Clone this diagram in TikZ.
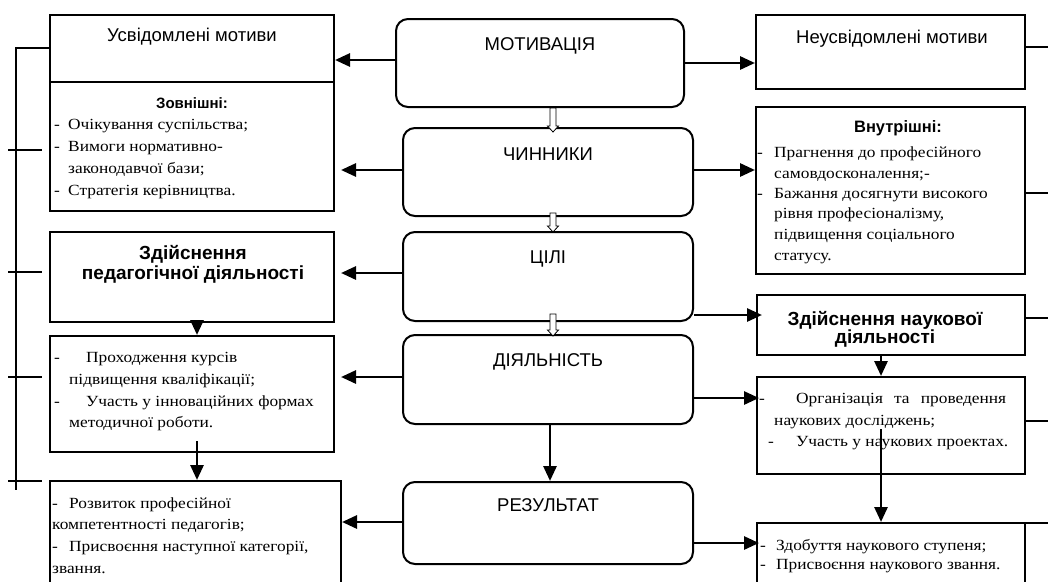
\documentclass[tikz,border=0pt]{standalone}
\usepackage{fontspec}
\setmainfont{Liberation Serif}[FakeStretch=1.12]
\newfontfamily\arialf{Liberation Sans}
\usetikzlibrary{arrows.meta,calc}
\newcommand\srsz{\fontsize{15.5}{20}\selectfont}
\newcommand\labsz{\arialf\fontsize{18.5}{20}\selectfont}
\newcommand\bldsz{\arialf\bfseries\fontsize{19}{20}\selectfont}
\newcommand\bldsm{\arialf\bfseries\fontsize{15}{18}\selectfont}
\newcommand\bldmd{\arialf\bfseries\fontsize{16.5}{18}\selectfont}
\newcommand\tln[4]{\node[tl] (#1) at (#2,#3) {#4};}
\newcommand\dsh[1]{\makebox[#1pt][l]{-}}
\begin{document}
\begin{tikzpicture}[x=1pt,y=-1pt,
  box/.style={draw, line width=2pt, inner sep=0pt, rectangle},
  cbox/.style={box, rounded corners=12pt},
  arr/.style={line width=2.8pt, -{Triangle[length=15pt,width=13pt]}},
  fb/.style={line width=2.3pt},
  tl/.style={anchor=base west, inner sep=0pt, font=\srsz},
  lab/.style={anchor=base, inner sep=0pt, font=\labsz},
  bld/.style={anchor=base, inner sep=0pt, font=\bldsz},
  bsm/.style={anchor=base, inner sep=0pt, font=\bldsm},
  bmd/.style={anchor=base, inner sep=0pt, font=\bldmd},
  hollow/.style={fill=white, draw=black, line width=0.8pt}
]
\useasboundingbox (0,0) rectangle (1048,581);
\clip (0,0) rectangle (1048,581);

% left column
\node[box, minimum width=284pt, minimum height=67pt] (L1) at (192,48.5) {};
\node[box, minimum width=284pt, minimum height=129pt] (L2) at (192,146.5) {};
\node[box, minimum width=284pt, minimum height=90pt] (L3) at (192,277) {};
\node[box, minimum width=284pt, minimum height=116pt] (L4) at (192,394) {};
\node[box, minimum width=291pt, minimum height=119pt] (L5) at (195.5,540.5) {};

% centre column
\node[cbox, minimum width=288pt, minimum height=88pt] (mot) at (540,63) {};
\node[cbox, minimum width=290pt, minimum height=88pt] (chy) at (548,172) {};
\node[cbox, minimum width=290pt, minimum height=89pt] (cil) at (548,276.5) {};
\node[cbox, minimum width=290pt, minimum height=89pt] (diy) at (548,379.5) {};
\node[cbox, minimum width=290pt, minimum height=82pt] (res) at (548,523) {};

% right column
\node[box, minimum width=269pt, minimum height=74pt] (R1) at (890.5,52) {};
\node[box, minimum width=269pt, minimum height=167pt] (R2) at (890.5,190.5) {};
\node[box, minimum width=268pt, minimum height=60pt] (R3) at (891,325) {};
\node[box, minimum width=268pt, minimum height=97pt] (R4) at (891,425.5) {};
\node[box, minimum width=268pt, minimum height=77pt] (R5) at (891,561.5) {};

% texts
\node[lab] (tL1) at (192,41) {Усвідомлені мотиви};
\node[lab] (tR1) at (892,43) {Неусвідомлені мотиви};
\node[lab] (tmot) at (540,50) {МОТИВАЦІЯ};
\node[lab] (tchy) at (548,160) {ЧИННИКИ};
\node[lab] (tcil) at (548,263) {ЦІЛІ};
\node[lab] (tdiy) at (548,366) {ДІЯЛЬНІСТЬ};
\node[lab] (tres) at (548,511) {РЕЗУЛЬТАТ};

\node[bsm] (tL2h) at (192,108) {Зовнішні:};
\tln{l2a}{54}{129}{\dsh{14}Очікування суспільства;}
\tln{l2b}{54}{151}{\dsh{14}Вимоги нормативно-}
\tln{l2c}{68}{173}{законодавчої бази;}
\tln{l2d}{54}{195}{\dsh{14}Стратегія керівництва.}

\node[bld] (tL3a) at (193,259) {Здійснення};
\node[bld] (tL3b) at (193,279) {педагогічної діяльності};

\tln{l4a}{54}{362}{\dsh{32}Проходження курсів}
\tln{l4b}{69}{384}{підвищення кваліфікації;}
\tln{l4c}{54}{406}{\dsh{32}Участь у інноваційних формах}
\tln{l4d}{69}{427}{методичної роботи.}

\tln{l5a}{52}{508}{\dsh{17}Розвиток професійної}
\tln{l5b}{52}{529}{компетентності педагогів;}
\tln{l5c}{52}{551}{\dsh{17}Присвоєння наступної категорії,}
\tln{l5d}{52}{573}{звання.}

\node[bmd] (tR2h) at (898,132) {Внутрішні:};
\tln{r2a}{757}{157}{\dsh{17}Прагнення до професійного}
\tln{r2b}{774}{178}{самовдосконалення;-}
\tln{r2c}{757}{198}{\dsh{17}Бажання досягнути високого}
\tln{r2d}{774}{218}{рівня професіоналізму,}
\tln{r2e}{774}{239}{підвищення соціального}
\tln{r2f}{774}{260}{статусу.}

\node[bld] (tR3a) at (885,325) {Здійснення наукової};
\node[bld] (tR3b) at (885,343) {діяльності};

\tln{r4a}{759}{403}{\dsh{37}\makebox[210pt][s]{Організація та проведення}}
\tln{r4b}{774}{425}{наукових досліджень;}
\tln{r4c}{768}{446}{\dsh{28}Участь у наукових проектах.}

\tln{r5a}{760}{550}{\dsh{16}Здобуття наукового ступеня;}
\tln{r5b}{760}{569}{\dsh{16}Присвоєння наукового звання.}

% horizontal arrows
\draw[arr] (mot.west |- 0,60) -- (L1.east |- 0,60);
\draw[arr] (mot.east |- 0,63) -- (R1.west |- 0,63);
\draw[arr] (chy.west |- 0,170) -- ([xshift=6pt]L2.east |- 0,170);
\draw[arr] (chy.east |- 0,170) -- (R2.west |- 0,170);
\draw[arr] (cil.west |- 0,273) -- ([xshift=6pt]L3.east |- 0,273);
\draw[arr] (cil.east |- 0,315) -- ([xshift=6pt]R3.west |- 0,315);
\draw[arr] (diy.west |- 0,377) -- ([xshift=6pt]L4.east |- 0,377);
\draw[arr] (diy.east |- 0,398) -- ([xshift=3pt]R4.west |- 0,398);
\draw[arr] (res.west |- 0,522) -- (L5.east |- 0,522);
\draw[arr] (res.east |- 0,543) -- ([xshift=3pt]R5.west |- 0,543);

% vertical arrows
\draw[arr] (diy.south -| 550,0) -- (res.north -| 550,0);
\draw[arr] (L3.south -| 197,0) -- (L4.north -| 197,0);
\draw[arr] ([yshift=12pt]L4.south -| 197,0) -- (L5.north -| 197,0);
\draw[arr] (R3.south -| 881,0) -- (R4.north -| 881,0);
\draw[arr] ([yshift=46pt]R4.south -| 881,0) -- (R5.north -| 881,0);

% left feedback line
\coordinate (fbtop) at (16,48);
\coordinate (fbbot) at (16,490);
\draw[fb] (L1.west |- fbtop) -- (fbtop) -- (fbbot);
\draw[fb] (8,150) -- ([xshift=-7pt]L2.west |- 0,150);
\draw[fb] (8,272) -- ([xshift=-7pt]L3.west |- 0,272);
\draw[fb] (8,377) -- ([xshift=-7pt]L4.west |- 0,377);
\draw[fb] (8,481) -- ([xshift=-7pt]L5.west |- 0,481);

% right feedback ticks
\draw[fb] (R1.east |- 0,47) -- (1048,47);
\draw[fb] (R2.east |- 0,193) -- (1048,193);
\draw[fb] (R3.east |- 0,318) -- (1048,318);
\draw[fb] (R4.east |- 0,421) -- (1048,421);
\draw[fb] (R5.east |- 0,523) -- (1048,523);

% hollow arrows
\newcommand\hollowarrow[2]{%
  \path #1 coordinate (ha1) #2 coordinate (ha2);
  \filldraw[hollow] ($(ha1)+(-3,0)$) -- ($(ha2)+(-3,-6)$) -- ($(ha2)+(-5.5,-6)$)
    -- (ha2) -- ($(ha2)+(5.5,-6)$) -- ($(ha2)+(3,-6)$) -- ($(ha1)+(3,0)$) -- cycle;}
\hollowarrow{($(mot.south)+(13,0)$)}{($(chy.north)+(5,5)$)}
\hollowarrow{($(chy.south)+(5,-4)$)}{($(cil.north)+(5,1)$)}
\hollowarrow{($(cil.south)+(5,-8)$)}{($(diy.north)+(5,2)$)}
\end{tikzpicture}
\end{document}
